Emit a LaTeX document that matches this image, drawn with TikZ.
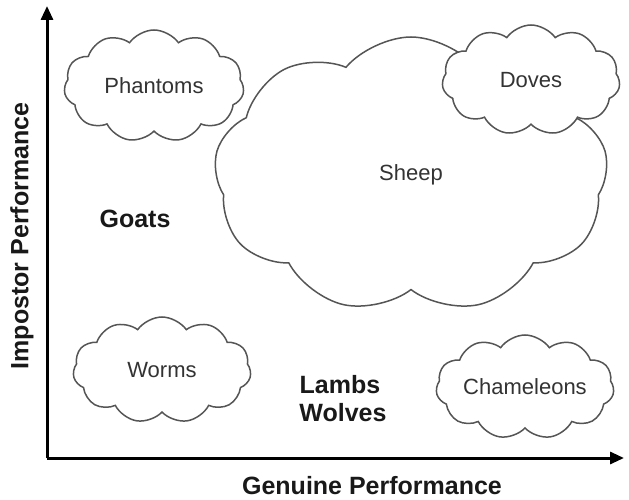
\documentclass[tikz,border=0pt]{standalone}
\usepackage{fontspec}
\setmainfont{Liberation Sans}
\usetikzlibrary{shapes.symbols,arrows.meta}
\definecolor{cloudline}{HTML}{555555}
\definecolor{cloudtext}{HTML}{333333}
\begin{document}
\begin{tikzpicture}[x=1pt,y=-1pt,
    group/.style={cloud, cloud puffs=11, cloud puff arc=110, cloud ignores aspect,
        draw=cloudline, line width=1.5pt, fill=white, text=cloudtext, inner sep=0pt,
        font=\fontsize{22}{26}\selectfont},
    kind/.style={font=\fontsize{25}{30}\selectfont\bfseries, text=black!90},
    axis/.style={line width=3pt, -{Triangle[length=14pt,width=12pt]}}]
        \useasboundingbox (0,0) rectangle (629,500);

        % Define axes
        \coordinate (O) at (47,458);
        \coordinate (Ytip) at (47,6);
        \coordinate (Xtip) at (624,458);

        % Draw axes
        \draw[axis] (O) -- (Ytip);
        \draw[axis] (O) -- (Xtip);
        \node[kind] (genuine) at (372,486) {Genuine Performance};
        \node[kind, rotate=90] (impostor) at (22,236) {Impostor Performance};

        % Draw the clouds
        \node[group, minimum width=180, minimum height=112] (phantoms) at (154,86) {Phantoms};
        \node[group, cloud puffs=9, cloud puff arc=100, minimum width=394, minimum height=276] (sheep) at (411,175) {Sheep};
        \node[group, minimum width=178, minimum height=110] (doves) at (531,80) {Doves};
        \node[group, minimum width=178, minimum height=106] (worms) at (162,370) {Worms};
        \node[group, minimum width=178, minimum height=104] (chameleons) at (525,387) {Chameleons};

        % Bold labels without clouds
        \node[kind] (goats) at (135,219) {Goats};
        \node[kind] (lambs) at (340,385) {Lambs};
        \node[kind] (wolves) at (343,413) {Wolves};
    \end{tikzpicture}
\end{document}
